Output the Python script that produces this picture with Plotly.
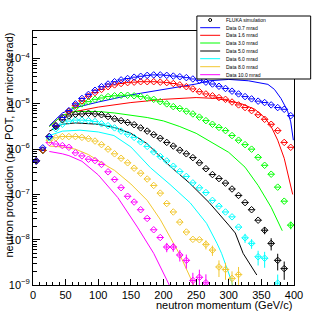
import plotly.graph_objects as go

# ---------------- data ----------------
p_fluka = [5, 15, 25, 35, 45, 55, 65, 75, 85, 95, 105, 115, 125, 135, 145, 155, 165, 175, 185, 195,
           205, 215, 225, 235, 245, 255, 265, 275, 285, 295, 305, 315, 325, 335, 345, 355, 365, 375, 385, 395]
bin_half_width = 5

fluka_07 = [5.5e-7, 1.07e-6, 1.9e-6, 3.3e-6, 5.0e-6, 7.1e-6, 1.0e-5, 1.32e-5, 1.62e-5, 2.0e-5,
            2.4e-5, 2.75e-5, 3.09e-5, 3.39e-5, 3.63e-5, 3.89e-5, 4.07e-5, 4.27e-5, 4.37e-5, 4.37e-5,
            4.27e-5, 4.12e-5, 3.98e-5, 3.80e-5, 3.55e-5, 3.31e-5, 3.02e-5, 2.75e-5, 2.45e-5, 2.19e-5,
            1.91e-5, 1.66e-5, 1.45e-5, 1.29e-5, 1.15e-5, 1.07e-5, 9.5e-6, 8.3e-6, 7.6e-6, 5.5e-6]
fluka_16 = [5.5e-7, 9.5e-7, 1.9e-6, 3.3e-6, 5.0e-6, 6.8e-6, 9.3e-6, 1.17e-5, 1.48e-5, 1.78e-5,
            2.09e-5, 2.4e-5, 2.63e-5, 2.82e-5, 2.95e-5, 3.02e-5, 3.09e-5, 3.09e-5, 3.09e-5, 3.02e-5,
            2.95e-5, 2.82e-5, 2.63e-5, 2.4e-5, 2.14e-5, 1.86e-5, 1.66e-5, 1.51e-5, 1.38e-5, 1.26e-5,
            1.10e-5, 9.5e-6, 8.3e-6, 7.1e-6, 5.75e-6, 4.57e-6, 3.55e-6, 2.57e-6, 1.41e-6, 1.10e-6]
fluka_30 = [5.5e-7, 9.5e-7, 1.9e-6, 3.3e-6, 5.0e-6, 6.8e-6, 8.3e-6, 1.0e-5, 1.12e-5, 1.26e-5,
            1.35e-5, 1.45e-5, 1.51e-5, 1.55e-5, 1.55e-5, 1.51e-5, 1.45e-5, 1.35e-5, 1.26e-5, 1.12e-5,
            1.0e-5, 8.7e-6, 7.9e-6, 6.9e-6, 6.0e-6, 5.1e-6, 4.27e-6, 3.55e-6, 3.02e-6, 2.57e-6,
            2.0e-6, 1.58e-6, 1.26e-6, 1.0e-6, 6.6e-7, 4.4e-7, 2.8e-7, 1.45e-7, 7.1e-8, 2.1e-8]
fluka_50 = [5.5e-7, 9.5e-7, 1.9e-6, 3.16e-6, 4.47e-6, 5.4e-6, 5.9e-6, 6.0e-6, 6.2e-6, 6.0e-6,
            5.75e-6, 5.25e-6, 4.68e-6, 4.27e-6, 3.89e-6, 3.47e-6, 2.95e-6, 2.51e-6, 2.09e-6, 1.74e-6,
            1.41e-6, 1.17e-6, 9.5e-7, 7.9e-7, 6.5e-7, 5.0e-7, 3.7e-7, 2.75e-7, 2.24e-7, 1.78e-7,
            1.32e-7, 9.5e-8, 6.6e-8, 4.6e-8, 2.7e-8, 1.62e-8, 8.3e-9, 3.5e-9, 2.3e-9, None]
fluka_60 = [5.5e-7, 9.5e-7, 1.78e-6, 2.82e-6, 3.55e-6, 4.17e-6, 4.37e-6, 4.37e-6, 4.27e-6, 4.07e-6,
            3.63e-6, 3.31e-6, 2.95e-6, 2.51e-6, 2.14e-6, 1.82e-6, 1.45e-6, 1.15e-6, 8.7e-7, 6.9e-7,
            5.5e-7, 4.2e-7, 3.2e-7, 2.5e-7, 1.8e-7, 1.4e-7, 1.1e-7, 7.4e-8, 5.5e-8, 4.1e-8,
            3.2e-8, 1.9e-8, 1.1e-8, 8.3e-9, 4.2e-9, 3.9e-9, None, 1.1e-9, None, None]
fluka_80 = [5.5e-7, 9.5e-7, 1.58e-6, 1.78e-6, 1.9e-6, 1.9e-6, 1.9e-6, 1.82e-6, 1.7e-6, 1.51e-6,
            1.26e-6, 1.0e-6, 7.9e-7, 6.3e-7, 5.0e-7, 3.8e-7, 2.95e-7, 2.19e-7, 1.58e-7, 1.07e-7,
            6.3e-8, 4.1e-8, 2.45e-8, 1.48e-8, 1.02e-8, 1.0e-8, 7.9e-9, 5.9e-9, 2.5e-9, 2.2e-9,
            1.4e-9, 1.7e-9, None, None, None, None, None, None, None, None]
fluka_100 = [5.5e-7, 9.5e-7, 1.4e-6, 1.3e-6, 1.2e-6, 1.1e-6, 8.3e-7, 7.1e-7, 6.0e-7, 5.6e-7,
             4.6e-7, 3.16e-7, 2.14e-7, 1.41e-7, 9.1e-8, 6.8e-8, 4.6e-8, 2.95e-8, 1.66e-8, 1.12e-8,
             6.9e-9, 6.9e-9, 4.6e-9, 3.5e-9, 1.26e-9, 1.48e-9, 1.12e-9, None, None, None,
             None, None, None, None, None, None, None, None, None, None]

# statistical errors visible in the tails (momentum -> error)
err_07 = {}
err_16 = {}
err_30 = {395: 4e-9}
err_50 = {355: 3e-9, 365: 2.5e-9, 375: 1.4e-9, 385: 1.0e-9}
err_60 = {325: 2.5e-9, 335: 2e-9, 345: 1.5e-9, 355: 1.5e-9, 375: 0.6e-9}
err_80 = {265: 1.8e-9, 275: 1.5e-9, 285: 1.0e-9, 295: 0.9e-9, 305: 0.6e-9, 315: 0.8e-9}
err_100 = {205: 1.6e-9, 215: 1.5e-9, 225: 1.3e-9, 235: 1.2e-9, 245: 0.6e-9, 255: 0.7e-9, 265: 0.6e-9}

data_07_p = [25, 45, 65, 100, 150, 200, 250, 270, 300, 330, 360, 370, 380, 390, 395, 399]
data_07 = [3.3e-6, 6.3e-6, 8.3e-6, 1.1e-5, 1.58e-5, 2.09e-5, 2.75e-5, 3.24e-5, 3.47e-5, 3.24e-5,
           2.7e-5, 2.09e-5, 1.32e-5, 7.1e-6, 4.0e-6, 1.58e-6]
data_16_p = [25, 45, 65, 100, 150, 200, 250, 280, 300, 320, 340, 355, 365, 375, 385, 392, 398]
data_16 = [3.16e-6, 5.6e-6, 6.8e-6, 8.5e-6, 1.07e-5, 1.26e-5, 1.38e-5, 1.32e-5, 1.17e-5, 1.0e-5,
           7.6e-6, 5.0e-6, 3.16e-6, 1.58e-6, 6.3e-7, 2.5e-7, 1.0e-7]
data_30_p = [25, 45, 65, 100, 125, 150, 175, 200, 225, 250, 275, 300, 325, 345, 365, 375, 382]
data_30 = [3.16e-6, 5.6e-6, 6.8e-6, 6.8e-6, 6.3e-6, 5.6e-6, 5.0e-6, 4.2e-6, 3.16e-6, 2.24e-6,
           1.41e-6, 8.5e-7, 4.0e-7, 1.58e-7, 5.2e-8, 2.5e-8, 1.58e-8]
data_50_p = [25, 45, 65, 100, 125, 150, 175, 185, 210, 240, 270, 300, 310, 322, 343]
data_50 = [2.5e-6, 3.55e-6, 3.8e-6, 3.55e-6, 3.0e-6, 2.24e-6, 1.32e-6, 9.5e-7, 4.2e-7, 1.78e-7,
           6.6e-8, 2.1e-8, 1.41e-8, 5.0e-9, 1.66e-9]
data_60_p = [25, 45, 72, 100, 124, 150, 180, 210, 241, 266, 282, 289, 302, 306]
data_60 = [2.0e-6, 2.5e-6, 2.63e-6, 2.4e-6, 2.0e-6, 1.12e-6, 3.9e-7, 1.66e-7, 6.5e-8, 2.3e-8,
           8.3e-9, 5.0e-9, 1.5e-9, 1.0e-9]
data_80_p = [25, 45, 65, 85, 105, 125, 150, 175, 195, 205, 215, 225, 235, 245, 250]
data_80 = [1.17e-6, 1.12e-6, 1.0e-6, 7.6e-7, 5.0e-7, 3.4e-7, 1.7e-7, 7.4e-8, 2.8e-8, 1.5e-8,
           8.5e-9, 4.7e-9, 2.2e-9, 1.1e-9, 8e-10]
data_100_p = [25, 35, 45, 55, 75, 100, 130, 160, 185, 205, 212]
data_100 = [8.9e-7, 8.5e-7, 7.9e-7, 7.2e-7, 5.4e-7, 2.7e-7, 8.5e-8, 1.9e-8, 5.0e-9, 1.3e-9, 8e-10]

legend_labels = ["Data 0.7 mrad", "Data 1.6 mrad", "Data 3.0 mrad", "Data 5.0 mrad",
                 "Data 6.0 mrad", "Data 8.0 mrad", "Data 10.0 mrad"]
colors = ["#0000ff", "#ff0000", "#00ff00", "#000000", "#00ffff", "#f2c830", "#ff00ff"]

x_ticks = [0, 50, 100, 150, 200, 250, 300, 350, 400]
y_exps = [-9, -8, -7, -6, -5, -4]

# ---------------- figure ----------------
W, H = 327, 317
L, R, T, B = 32.5, 33, 31, 32
fig = go.Figure()

lines = [(data_07_p, data_07), (data_16_p, data_16), (data_30_p, data_30), (data_50_p, data_50),
         (data_60_p, data_60), (data_80_p, data_80), (data_100_p, data_100)]
for (px, py), c in zip(lines, colors):
    fig.add_trace(go.Scatter(x=px, y=py, mode="lines", line=dict(color=c, width=1),
                             showlegend=False, hoverinfo="skip"))

flukas = [fluka_07, fluka_16, fluka_30, fluka_50, fluka_60, fluka_80, fluka_100]
errs = [err_07, err_16, err_30, err_50, err_60, err_80, err_100]
for f, e, c in list(zip(flukas, errs, colors))[::-1]:
    ey = [e.get(p, 0) for p in p_fluka]
    fig.add_trace(go.Scatter(x=p_fluka, y=f, mode="markers",
                             marker=dict(symbol="diamond-open", size=5, color=c, line=dict(width=1, color=c)),
                             error_x=dict(type="constant", value=bin_half_width, width=0, thickness=1, color=c),
                             error_y=dict(type="data", array=ey, width=0, thickness=1, color=c),
                             showlegend=False, hoverinfo="skip"))

minor_y = [k * 10.0 ** e for e in range(-9, -3) for k in range(2, 10)]
fig.update_layout(
    width=W, height=H, margin=dict(l=L, r=R, t=T, b=B, pad=0, autoexpand=False),
    paper_bgcolor="white", plot_bgcolor="white",
    font=dict(family="Liberation Sans, Arial, sans-serif", color="black"),
    xaxis=dict(range=[0, 400], tickmode="array", tickvals=x_ticks, ticks="inside", ticklen=6,
               tickcolor="black", tickfont=dict(size=11), showgrid=False, zeroline=False,
               showline=True, linecolor="black", linewidth=1, mirror=True, automargin=False,
               minor=dict(ticks="inside", ticklen=3, dtick=10, tickcolor="black", showgrid=False)),
    yaxis=dict(type="log", range=[-9, -3.39], tickmode="array",
               tickvals=[10.0 ** e for e in y_exps],
               ticktext=["10<sup>\u2212%d</sup>" % (-e) for e in y_exps],
               ticks="inside", ticklen=7, tickcolor="black", tickfont=dict(size=11),
               showgrid=False, zeroline=False, showline=True, linecolor="black", linewidth=1, mirror=True,
               automargin=False,
               minor=dict(ticks="inside", ticklen=4, tickmode="array", tickvals=minor_y,
                          tickcolor="black", showgrid=False)),
)

# axis titles
fig.add_annotation(text="neutron momentum (GeV/c)", xref="paper", yref="paper", x=1, y=0,
                   xanchor="right", yanchor="middle", yshift=-20, showarrow=False,
                   font=dict(size=11))
fig.add_annotation(text="neutron production (per POT, per microsterad)", xref="paper", yref="paper",
                   x=0, y=1, xanchor="center", yanchor="top", xshift=-25, textangle=-90,
                   showarrow=False, font=dict(size=11))

# legend (pixel geometry converted to paper coords)
pw, ph = W - L - R, H - T - B
def px2x(px):
    return (px - L) / pw
def py2y(py):
    return 1 - (py - T) / ph

fig.add_shape(type="rect", xref="paper", yref="paper", x0=px2x(196.7), x1=px2x(310.7),
              y0=py2y(79), y1=py2y(16), line=dict(color="black", width=1), fillcolor="white", layer="above")
rows = [20, 27.7, 35.3, 43, 51, 58.7, 66.7, 74.7]
fig.add_shape(type="circle", xref="paper", yref="paper", x0=px2x(208.5), x1=px2x(211.5),
              y0=py2y(rows[0] + 1.5), y1=py2y(rows[0] - 1.5), line=dict(color="black", width=1), layer="above")
fig.add_annotation(text="FLUKA simulation", xref="paper", yref="paper", x=px2x(224), y=py2y(rows[0]),
                   xanchor="left", yanchor="middle", showarrow=False, font=dict(size=5))
for lab, c, ry in zip(legend_labels, colors, rows[1:]):
    fig.add_shape(type="line", xref="paper", yref="paper", x0=px2x(200), x1=px2x(220),
                  y0=py2y(ry), y1=py2y(ry), line=dict(color=c, width=1), layer="above")
    fig.add_annotation(text=lab, xref="paper", yref="paper", x=px2x(224), y=py2y(ry),
                       xanchor="left", yanchor="middle", showarrow=False, font=dict(size=5))

fig.write_html("out.html", config={"displayModeBar": False},
               post_script="document.body.style.margin='0px';document.body.style.padding='0px';")
